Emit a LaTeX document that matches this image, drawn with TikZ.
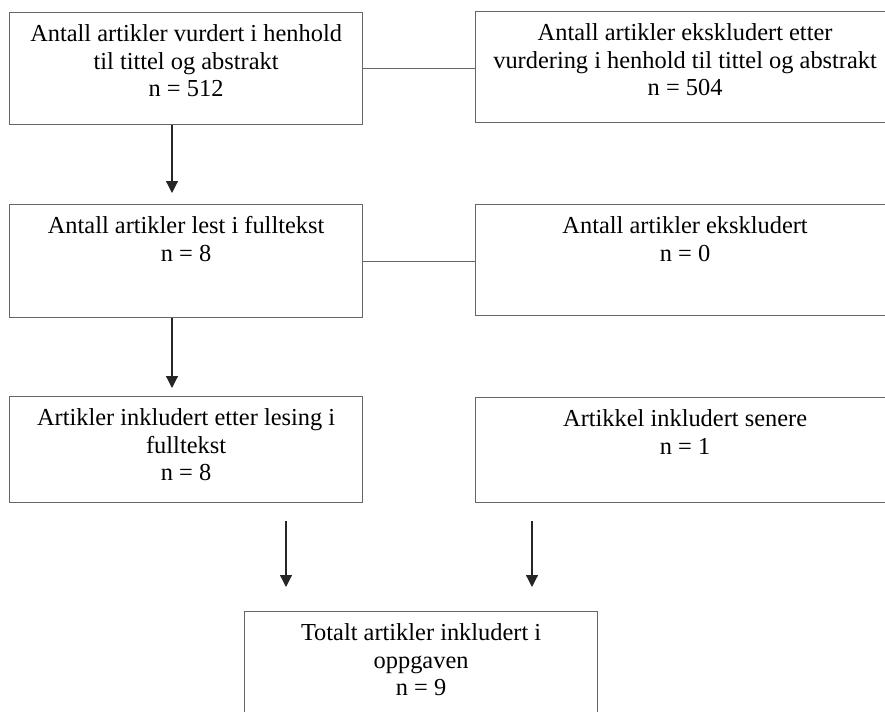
\documentclass[tikz,border=0pt]{standalone}
\usepackage{fontspec}
\setmainfont{Liberation Serif}
\usetikzlibrary{arrows.meta}
\newcommand{\boxtext}[3]{\parbox[c][#2][t]{#1}{\centering\rule{0pt}{14.5pt}#3}}
\tikzset{flowbox/.style={draw=black!60, line width=0.6pt, inner sep=0pt, anchor=north west, font=\fontsize{12.2}{13.8}\selectfont},
         flowline/.style={draw=black!60, line width=0.6pt},
         flowarrow/.style={draw=black!85, line width=0.6pt, -{Triangle[width=6pt, length=6pt]}}}

\begin{document}
\begin{tikzpicture}[x=0.5pt, y=-0.5pt]
    \useasboundingbox (0,0) rectangle (885,712);

    \node[flowbox] (b1) at (9,12) {\boxtext{176.5pt}{56pt}{Antall artikler vurdert i henhold\\ til tittel og abstrakt\\ n = 512}};
    \node[flowbox] (b2) at (475,11) {\boxtext{209.5pt}{55.5pt}{Antall artikler ekskludert etter\\ vurdering i henhold til tittel og abstrakt\\ n = 504}};
    \node[flowbox] (b3) at (9,204) {\boxtext{176.5pt}{56.5pt}{Antall artikler lest i fulltekst\\ n = 8}};
    \node[flowbox] (b4) at (475,204) {\boxtext{209.5pt}{55.5pt}{Antall artikler ekskludert\\ n = 0}};
    \node[flowbox] (b5) at (9,396) {\boxtext{176.5pt}{53pt}{Artikler inkludert etter lesing i\\ fulltekst\\ n = 8}};
    \node[flowbox] (b6) at (475,397) {\boxtext{209.5pt}{52.5pt}{Artikkel inkludert senere\\ n = 1}};
    \node[flowbox] (b7) at (244,611) {\boxtext{176.5pt}{56pt}{Totalt artikler inkludert i\\ oppgaven\\ n = 9}};

    \coordinate (t1) at (172,193);
    \coordinate (t2) at (172,388);
    \coordinate (s3) at (286,521);
    \coordinate (t3) at (286,587);
    \coordinate (s4) at (532,521);
    \coordinate (t4) at (532,587);

    \draw[flowline] (b1.east) -- (b1.east -| b2.west);
    \draw[flowline] (b3.east) -- (b3.east -| b4.west);

    \draw[flowarrow] (b1.south -| t1) -- (t1);
    \draw[flowarrow] (b3.south -| t2) -- (t2);
    \draw[flowarrow] (s3) -- (t3);
    \draw[flowarrow] (s4) -- (t4);
\end{tikzpicture}
\end{document}
